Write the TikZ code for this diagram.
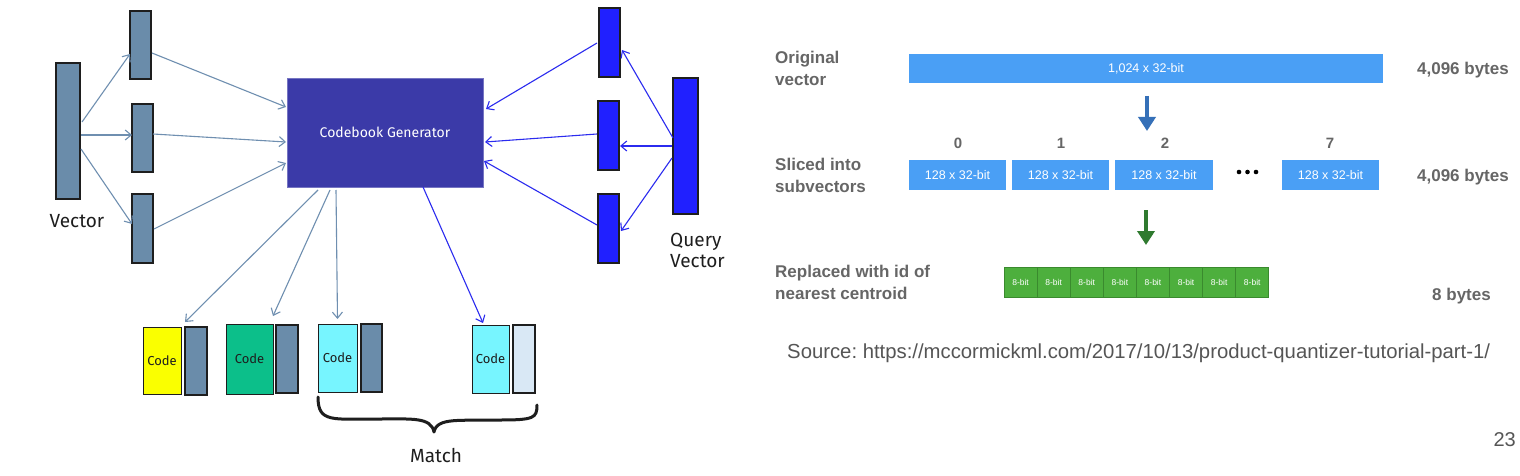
\documentclass[tikz,border=0pt]{standalone}
\usepackage{fontspec}
\setmainfont{Liberation Sans}
\newfontfamily\hand{Fira Sans}
\usetikzlibrary{arrows.meta,calc}
\definecolor{slate}{HTML}{6A8CAA}
\definecolor{qblue}{HTML}{2020FF}
\definecolor{cgfill}{HTML}{3B3AA8}
\definecolor{larrow}{HTML}{6F8FB0}
\definecolor{rarrow}{HTML}{2B2BEF}
\definecolor{dark}{HTML}{1E1E1E}
\definecolor{cyel}{HTML}{FAFF00}
\definecolor{cgreen}{HTML}{0CBF8A}
\definecolor{ccyan}{HTML}{77F5FF}
\definecolor{clight}{HTML}{D9E8F5}
\definecolor{pblue}{HTML}{4A9FF5}
\definecolor{parrow}{HTML}{3570B8}
\definecolor{garrow}{HTML}{2F7A2F}
\definecolor{gcell}{HTML}{4DAF3D}
\definecolor{gedge}{HTML}{3A8A2E}
\definecolor{gtext}{HTML}{666666}
\definecolor{stext}{HTML}{555555}
\frenchspacing
\begin{document}
\begin{tikzpicture}[x=1pt,y=-1pt,
  box/.style={draw=dark,line width=1.2pt,inner sep=0pt,outer sep=0pt,anchor=north west},
  sbar/.style={box,fill=slate},
  qbar/.style={box,fill=qblue},
  codebox/.style={box,line width=0.8pt,font=\hand\fontsize{13}{14}\selectfont,text=dark},
  larr/.style={draw=larrow,line width=1.1pt,-{Straight Barb[length=6pt,width=10pt]}},
  rarr/.style={draw=rarrow,line width=1.1pt,-{Straight Barb[length=6pt,width=10pt]}},
  handlbl/.style={font=\hand\fontsize{19}{21}\selectfont,text=dark,inner sep=0pt},
  pbox/.style={fill=pblue,inner sep=0pt,outer sep=0pt,anchor=north west,text=white,font=\fontsize{12.5}{14}\selectfont},
  cellbox/.style={fill=gcell,draw=gedge,line width=0.8pt,inner sep=0pt,outer sep=0pt,anchor=north west,text=white,font=\fontsize{8.5}{10}\selectfont,minimum width=33.1,minimum height=30},
  glbl/.style={text=gtext,font=\bfseries\fontsize{17}{22}\selectfont,inner sep=0pt,align=left},
  nlbl/.style={text=gtext,font=\bfseries\fontsize{15}{18}\selectfont,inner sep=0pt},
  bigarr/.style={line width=4.5pt,-{Triangle[length=14pt,width=17pt]}}
]
\useasboundingbox[fill=white] (0,0) rectangle (1520,476);

% ---------------- left diagram ----------------
\node[sbar,minimum width=24,minimum height=136] (v) at (56,63) {};
\node[handlbl] (vl) at (77,221) {Vector};
\node[sbar,minimum width=21,minimum height=68] (s1) at (130,11) {};
\node[sbar,minimum width=21,minimum height=68] (s2) at (132,104) {};
\node[sbar,minimum width=21,minimum height=69] (s3) at (132,194) {};

\node[fill=cgfill,draw=cgfill!70!white,line width=0.8pt,inner sep=0pt,outer sep=0pt,anchor=north west,
      minimum width=196,minimum height=109,text=white,font=\hand\fontsize{14}{16}\selectfont] (cg) at (287,78) {Codebook Generator};

\node[qbar,minimum width=21,minimum height=69] (q1) at (599,8) {};
\node[qbar,minimum width=21,minimum height=69] (q2) at (598,101) {};
\node[qbar,minimum width=21,minimum height=69] (q3) at (598,194) {};
\node[qbar,minimum width=25,minimum height=136] (qv) at (673,78) {};
\node[handlbl,anchor=north west,align=left] (qvl) at (670,233) {Query\\Vector};

% bottom codes
\node[codebox,fill=cyel,minimum width=38,minimum height=67] (y1) at (143,327) {Code};
\node[sbar,minimum width=22,minimum height=68] (k1) at (185,327) {};
\node[codebox,fill=cgreen,minimum width=47,minimum height=70] (g1) at (226,324) {Code};
\node[sbar,minimum width=22,minimum height=68] (k2) at (276,325) {};
\node[codebox,fill=ccyan,minimum width=39,minimum height=68] (c1) at (318,324) {Code};
\node[sbar,minimum width=21,minimum height=68] (k3) at (361,324) {};
\node[codebox,fill=ccyan,minimum width=37,minimum height=68] (c2) at (472,325) {Code};
\node[box,fill=clight,minimum width=22,minimum height=68] (k4) at (513,325) {};

% brace
\draw[dark,line width=3pt,line cap=round,line join=round]
  (318,397) .. controls (318,423) and (332,419) .. (380,419)
  .. controls (412,419) and (431,417) .. (434,432)
  .. controls (437,417) and (460,421) .. (500,420)
  .. controls (534,420) and (537,418) .. (537,405);
\node[handlbl] (ml) at (436,456) {Match};

% arrows: vector -> sub-vectors
\draw[larr] ($(v.east)+(2,-9)$) -- ($(s1.west)+(0,9)$);
\draw[larr] ($(v.east)+(1,4)$) -- ($(s2.west)+(0,-3)$);
\draw[larr] ($(v.east)+(1,18)$) -- ($(s3.west)+(0,-4.5)$);
% sub-vectors -> codebook generator
\draw[larr] ($(s1.east)+(1,8)$) -- ($(cg.west)+(-1,-25.5)$);
\draw[larr] ($(s2.east)+(0,-4)$) -- ($(cg.west)+(-1,9.5)$);
\draw[larr] ($(s3.east)+(1,0.5)$) -- ($(cg.west)+(-1,30.5)$);
% query vector -> query sub-vectors
\draw[rarr] ($(qv.west)+(0,-8)$) -- ($(q1.east)+(2,7.5)$);
\draw[rarr] ($(qv.west)+(-1,0)$) -- ($(q2.east)+(1,10.5)$);
\draw[rarr] ($(qv.west)+(-1,12)$) -- ($(q3.east)+(2,2.5)$);
% query sub-vectors -> codebook generator
\draw[rarr] ($(q1.west)+(-2,0.5)$) -- ($(cg.east)+(3,-23.5)$);
\draw[rarr] ($(q2.west)+(-1,-1.5)$) -- ($(cg.east)+(2,9.5)$);
\draw[rarr] ($(q3.west)+(-1,-3.5)$) -- ($(cg.east)+(1,28.5)$);
% codebook generator -> codes
\draw[larr] ($(cg.south)+(-67,3)$) -- ($(y1.north east)+(4,-5)$);
\draw[larr] ($(cg.south)+(-55,3)$) -- ($(g1.north east)+(0,-8)$);
\draw[larr] ($(cg.south)+(-49,3)$) -- ($(c1.north)+(0,-5)$);
\draw[rarr] ($(cg.south)+(38,0)$) -- ($(c2.north west)+(11,-2)$);

% ---------------- right diagram ----------------
\node[glbl,anchor=north west] (l1) at (775,51) {Original\\vector};
\node[glbl,anchor=north west] (l2) at (775,158) {Sliced into\\subvectors};
\node[glbl,anchor=north west] (l3) at (775,265) {Replaced with id of\\nearest centroid};

\node[pbox,minimum width=474,minimum height=29] (bar) at (909,54) {1,024 x 32-bit};

\node[pbox,minimum width=97,minimum height=30] (p0) at (909,160) {128 x 32-bit};
\node[pbox,minimum width=97,minimum height=30] (p1) at (1012,160) {128 x 32-bit};
\node[pbox,minimum width=98,minimum height=30] (p2) at (1115,160) {128 x 32-bit};
\node[pbox,minimum width=97,minimum height=30] (p7) at (1282,160) {128 x 32-bit};
\coordinate (dots) at (1247.5,172);
\foreach \dx in {-8.5,0,8.5} \fill[black] ($(dots)+(\dx,0)$) circle (2.3);

\node[nlbl] (n0) at (958,143) {0};
\node[nlbl] (n1) at (1061,143) {1};
\node[nlbl] (n2) at (1165,143) {2};
\node[nlbl] (n7) at (1330,143) {7};

\draw[bigarr,parrow] ($(bar.south)+(1,13)$) -- ($(bar.south)+(1,48)$);

\foreach \i in {0,...,7} {
  \node[cellbox] (g\i) at ({1004+\i*33.1},267) {8-bit};
}
\coordinate (ga) at ($(p2.south west)+(31,20)$);
\draw[bigarr,garrow] (ga) -- ($(ga)+(0,35)$);

\node[glbl,anchor=east] (b1) at (1509,70) {4,096 bytes};
\node[glbl,anchor=east] (b2) at (1509,177) {4,096 bytes};
\node[glbl,anchor=east] (b3) at (1491,296) {8 bytes};

\node[text=stext,font=\fontsize{20.3}{22}\selectfont,inner sep=0pt,anchor=west] (src) at (787,353)
  {Source: https://mccormickml.com/2017/10/13/product-quantizer-tutorial-part-1/};

\node[text=stext,font=\fontsize{20}{24}\selectfont,inner sep=0pt,anchor=east] (pg) at (1516,440) {23};
\end{tikzpicture}
\end{document}
